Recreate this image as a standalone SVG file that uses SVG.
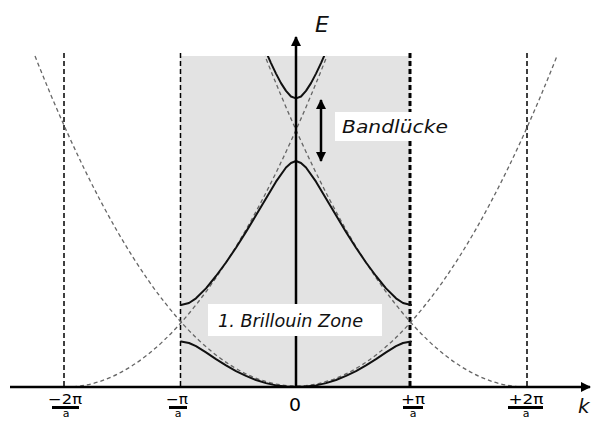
<svg xmlns="http://www.w3.org/2000/svg" width="595" height="421" viewBox="0 0 595 421">
<style>
.zone{fill:#e3e3e3;}
.vd{fill:none;stroke:#000;stroke-width:1.5;stroke-dasharray:5 3;}
.vdt{fill:none;stroke:#000;stroke-width:3;stroke-dasharray:5 3;}
.par{fill:none;stroke:#666;stroke-width:1.3;stroke-dasharray:4 3;}
.band{fill:none;stroke:#111;stroke-width:2;stroke-linejoin:round;stroke-linecap:round;}
.axis{fill:none;stroke:#000;stroke-width:2.5;}
.lbl{font-family:"DejaVu Sans","Liberation Sans",sans-serif;font-style:italic;fill:#111;}
.tick{font-family:"DejaVu Sans","Liberation Sans",sans-serif;fill:#000;text-anchor:middle;}
.bar{stroke:#000;stroke-width:3;}
.box{fill:#fff;}
</style>
<defs>
<marker id="ah" viewBox="0 0 10 10" refX="9" refY="5" markerWidth="4" markerHeight="4" orient="auto-start-reverse" markerUnits="strokeWidth">
<path d="M0,0 L10,5 L0,10 Z" fill="#000"/>
</marker>
<clipPath id="zc"><rect x="180" y="56" width="231" height="331"/></clipPath>
</defs>
<g id="zone"><rect class="zone" x="180" y="56" width="231" height="331"/></g>
<g id="gridlines">
<line class="vd" x1="64" y1="53" x2="64" y2="387"/>
<line class="vd" x1="180.5" y1="53" x2="180.5" y2="387"/>
<line class="vdt" x1="410" y1="53" x2="410" y2="387"/>
<line class="vd" x1="527" y1="53" x2="527" y2="387"/>
</g>
<g id="free-parabolas">
<path class="par" d="M35,56 Q296,716 557,56"/>
<path class="par" d="M66,387 Q196.5,387 327,56"/>
<path class="par" d="M526,387 Q395.5,387 265,56"/>
</g>
<g id="bands">
<path id="band1" class="band" d="M181,341.5 L189,343 L196,346.2 L206,352.4 L216,359.2 L226,365.4 L236,371.1 L246,375.9 L256,380 L266,383.1 L276,385.4 L286,386.6 L296,387 L306,386.6 L316,385.4 L326,383.1 L336,380 L346,375.9 L356,371.1 L366,365.3 L376,359.2 L386,352.4 L396,346.2 L403,343 L411,341.5"/>
<path id="band2" class="band" d="M181,305 L189,303 L196,298.3 L206,288.4 L216,276 L226,262.5 L236,247.7 L246,231.9 L256,215.3 L266,198.4 L276,181.7 L286,167.5 L291,163 L296,161 L301,163 L306,167.5 L316,181.7 L326,198.4 L336,215.3 L346,231.9 L356,247.7 L366,262.5 L376,276 L386,288.4 L396,298.3 L403,303 L411,305"/>
<path id="band3" class="band" clip-path="url(#zc)" d="M266,51.8 L271,63.1 L276,73.6 L281,83.1 L286,90.9 L291,96.5 L296,98.4 L301,96.5 L306,90.9 L311,83.1 L316,73.6 L321,63.1 L326,51.8"/>
</g>
<g id="connectors">
<line class="axis" x1="10" y1="387" x2="590" y2="387" marker-end="url(#ah)"/>
<line class="axis" x1="296" y1="387" x2="296" y2="37" marker-end="url(#ah)"/>
<line x1="321" y1="100" x2="321" y2="161" stroke="#000" stroke-width="2.5" marker-start="url(#ah)" marker-end="url(#ah)"/>
</g>
<g id="label-E"><text class="lbl" x="322" y="32" font-size="22" text-anchor="middle">E</text></g>
<g id="label-k"><text class="lbl" x="578" y="413" font-size="20">k</text></g>
<g id="label-gap">
<rect class="box" x="335" y="112" width="116" height="29"/>
<text class="lbl" x="342" y="133" font-size="18" textLength="106" lengthAdjust="spacingAndGlyphs">Bandlücke</text>
</g>
<g id="label-zone">
<rect class="box" x="208" y="304" width="174" height="32"/>
<text class="lbl" x="218" y="327" font-size="17" textLength="145" lengthAdjust="spacingAndGlyphs">1. Brillouin Zone</text>
</g>
<g id="ticks">
<text class="tick" x="65" y="404" font-size="14" textLength="34" lengthAdjust="spacingAndGlyphs">−2π</text>
<line class="bar" x1="52" y1="407.5" x2="79" y2="407.5"/>
<text class="tick" x="66" y="417" font-size="11">a</text>
<text class="tick" x="177" y="404" font-size="14" textLength="22" lengthAdjust="spacingAndGlyphs">−π</text>
<line class="bar" x1="169" y1="407.5" x2="187" y2="407.5"/>
<text class="tick" x="178" y="417" font-size="11">a</text>
<text class="tick" x="295" y="411" font-size="18" textLength="12" lengthAdjust="spacingAndGlyphs">0</text>
<text class="tick" x="413" y="404" font-size="14" textLength="24" lengthAdjust="spacingAndGlyphs">+π</text>
<line class="bar" x1="403" y1="407.5" x2="423" y2="407.5"/>
<text class="tick" x="413" y="417" font-size="11">a</text>
<text class="tick" x="526" y="404" font-size="14" textLength="35" lengthAdjust="spacingAndGlyphs">+2π</text>
<line class="bar" x1="508" y1="407.5" x2="543" y2="407.5"/>
<text class="tick" x="526" y="417" font-size="11">a</text>
</g>
</svg>
